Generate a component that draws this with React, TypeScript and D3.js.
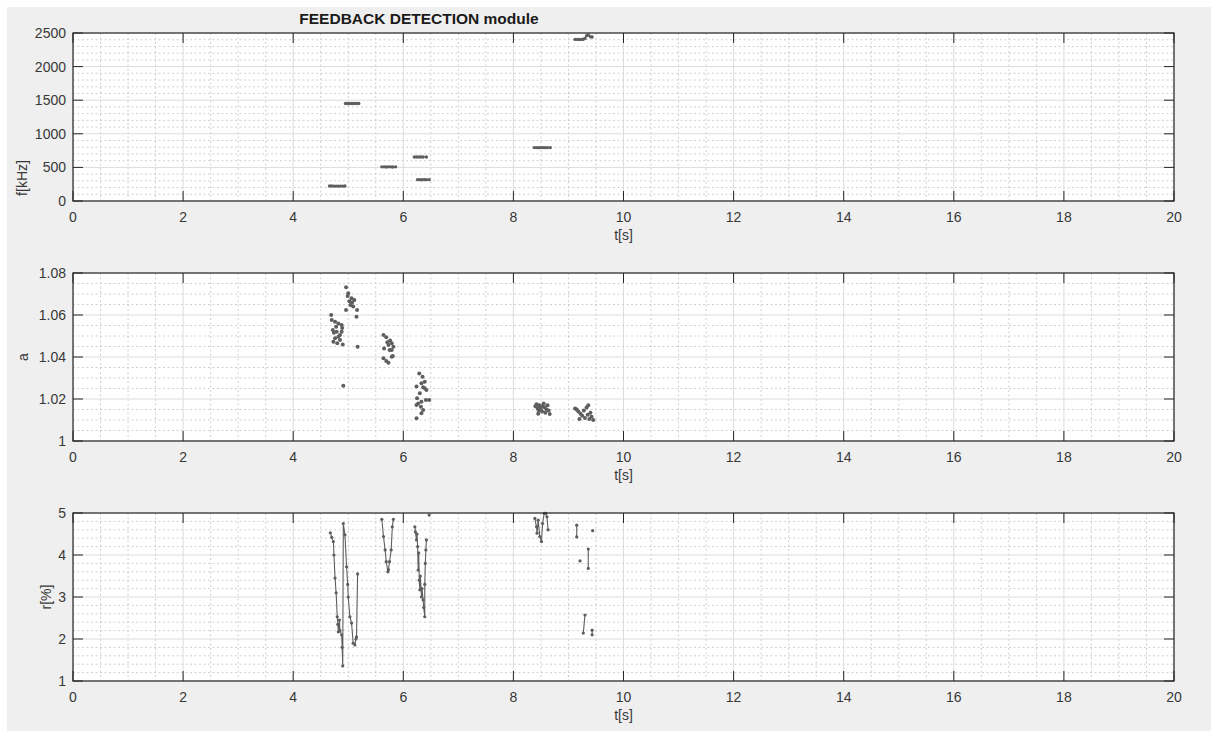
import React from "react";
import * as d3 from "d3";

// ---------- DATA ----------
const xTicks = [0, 2, 4, 6, 8, 10, 12, 14, 16, 18, 20];
const fTicks = [0, 500, 1000, 1500, 2000, 2500];
const aTicks = [1, 1.02, 1.04, 1.06, 1.08];
const rTicks = [1, 2, 3, 4, 5];

// f[kHz] : [t, f]  (null = break)
const freqData: ([number, number] | null)[] = [
  [4.66, 224], [4.70, 223], [4.74, 222], [4.78, 222], [4.82, 221], [4.86, 222], [4.90, 222], [4.94, 223], null,
  [4.95, 1452], [4.99, 1452], [5.03, 1451], [5.07, 1452], [5.11, 1452], [5.15, 1451], [5.19, 1452], null,
  [5.61, 508], [5.65, 508], [5.69, 507], [5.73, 508], [5.77, 508], [5.81, 507], [5.86, 508], null,
  [6.20, 655], [6.24, 655], [6.28, 654], [6.32, 655], [6.36, 655], [6.42, 655], null,
  [6.26, 318], [6.30, 318], [6.34, 317], [6.38, 318], [6.42, 318], [6.47, 318], null,
  [8.38, 795], [8.42, 795], [8.46, 794], [8.50, 795], [8.54, 795], [8.58, 794], [8.62, 795], [8.67, 795], null,
  [9.12, 2405], [9.16, 2405], [9.20, 2404], [9.24, 2405], [9.27, 2406], [9.30, 2420], [9.33, 2460], [9.36, 2470], [9.40, 2445], [9.43, 2440],
];

// a : [t, a]
const aData: [number, number][] = [
  [4.69, 1.06], [4.70, 1.0576], [4.76, 1.0568], [4.78, 1.0544], [4.82, 1.056], [4.88, 1.0552],
  [4.72, 1.0529], [4.79, 1.052], [4.85, 1.0505], [4.76, 1.0489], [4.82, 1.0497], [4.73, 1.0473],
  [4.80, 1.0465], [4.90, 1.046], [4.85, 1.0481], [4.88, 1.052], [4.89, 1.0538], [4.74, 1.0515],
  [4.91, 1.0263], [5.17, 1.0449],
  [4.96, 1.0732], [5.00, 1.0703], [5.06, 1.068], [5.11, 1.0671], [5.04, 1.0648], [4.96, 1.0624],
  [5.09, 1.064], [5.16, 1.0624], [5.15, 1.0592], [5.02, 1.0665], [5.07, 1.0660], [4.99, 1.0690],
  [5.64, 1.0505], [5.69, 1.0494], [5.76, 1.0478], [5.79, 1.0465], [5.82, 1.0449], [5.73, 1.0457],
  [5.79, 1.0433], [5.65, 1.0441], [5.75, 1.0433], [5.81, 1.0405], [5.64, 1.0394], [5.69, 1.0381],
  [5.73, 1.0373], [5.79, 1.0401], [5.71, 1.0470],
  [6.29, 1.0322], [6.35, 1.0306], [6.39, 1.0282], [6.33, 1.0275], [6.24, 1.0259], [6.36, 1.0256],
  [6.42, 1.0243], [6.30, 1.0227], [6.25, 1.0203], [6.33, 1.0187], [6.41, 1.0195], [6.47, 1.0195],
  [6.24, 1.0171], [6.32, 1.0163], [6.36, 1.0148], [6.33, 1.0132], [6.24, 1.0108], [6.27, 1.0179],
  [6.39, 1.0251],
  [8.40, 1.0165], [8.42, 1.0175], [8.44, 1.0155], [8.46, 1.0145], [8.47, 1.017], [8.49, 1.016],
  [8.50, 1.015], [8.52, 1.014], [8.53, 1.0165], [8.55, 1.0178], [8.57, 1.016], [8.58, 1.0135],
  [8.60, 1.015], [8.62, 1.017], [8.45, 1.013], [8.64, 1.0145], [8.66, 1.0128],
  [9.12, 1.0155], [9.15, 1.015], [9.18, 1.014], [9.22, 1.013], [9.25, 1.012], [9.28, 1.0145],
  [9.30, 1.011], [9.33, 1.016], [9.35, 1.0125], [9.38, 1.0105], [9.40, 1.0135], [9.42, 1.0115],
  [9.45, 1.010], [9.20, 1.0105], [9.36, 1.017],
];

// r[%] : [t, r]  (null = break)
const rData: ([number, number] | null)[] = [
  [4.674, 4.53], [4.70, 4.42], [4.73, 4.32], [4.74, 4.0], [4.76, 3.45], [4.78, 3.1], [4.80, 2.53],
  [4.81, 2.35], [4.82, 2.17], [4.84, 2.45], [4.85, 2.2], [4.88, 2.1], [4.89, 1.8], [4.90, 1.36],
  [4.91, 4.75], [4.94, 4.48], [4.97, 3.72], [4.99, 3.3], [5.00, 3.0], [5.03, 2.53], [5.06, 2.38],
  [5.09, 1.9], [5.12, 1.86], [5.14, 2.0], [5.15, 2.05], [5.17, 3.55], null,
  [5.61, 4.85], [5.64, 4.44], [5.67, 4.12], [5.69, 3.84], [5.72, 3.6], [5.73, 3.65], [5.75, 3.84],
  [5.78, 4.12], [5.80, 4.67], [5.82, 4.85], null,
  [6.21, 4.67], [6.22, 4.55], [6.24, 4.36], [6.25, 4.5], [6.26, 4.2], [6.27, 3.64], [6.28, 4.05],
  [6.29, 3.4], [6.30, 3.17], [6.31, 3.5], [6.33, 3.0], [6.34, 3.2], [6.36, 2.93], [6.37, 2.75],
  [6.39, 2.53], [6.39, 3.3], [6.40, 3.8], [6.41, 4.12], [6.42, 4.36], null,
  [6.47, 4.95], null,
  [8.39, 4.87], [8.42, 4.67], [8.43, 4.52], [8.45, 4.83], [8.48, 4.44], [8.51, 4.32], [8.53, 4.75],
  [8.56, 4.99], [8.59, 4.99], [8.61, 4.91], [8.63, 4.6], null,
  [9.15, 4.71], [9.15, 4.43], null,
  [9.44, 4.58], null,
  [9.21, 3.86], null,
  [9.36, 4.14], [9.36, 3.68], null,
  [9.30, 2.57], [9.27, 2.14], null,
  [9.43, 2.21], [9.43, 2.1],
];

// ---------- LAYOUT ----------
const W = 1211;
const H = 731;
const LEFT = 73;
const RIGHT = 1174;
const PH = 168;
const FONT = "'Liberation Sans', Arial, Helvetica, sans-serif";
const MARK = "#5e5e5e";
const TXT = "#383838";
const FS = 14;

type Panel = {
  top: number;
  domain: [number, number];
  ticks: number[];
  minorStep: number;
  fmt: (v: number) => string;
  ylabel: string;
  ylabelX: number;
  ylabelY?: number;
  kind: "line" | "scatter";
  data: ([number, number] | null)[];
  markR: number;
};

const panels: Panel[] = [
  { top: 33, domain: [0, 2500], ticks: fTicks, minorStep: 100, fmt: (v) => String(v), ylabel: "f[kHz]", ylabelX: 22, ylabelY: 178, kind: "line", data: freqData, markR: 1.7 },
  { top: 273, domain: [1, 1.08], ticks: aTicks, minorStep: 0.005, fmt: (v) => (v === 1 ? "1" : v.toFixed(2)), ylabel: "a", ylabelX: 23, kind: "scatter", data: aData, markR: 2 },
  { top: 513, domain: [1, 5], ticks: rTicks, minorStep: 0.2, fmt: (v) => String(v), ylabel: "r[%]", ylabelX: 46, kind: "line", data: rData, markR: 1.6 },
];

const x = d3.scaleLinear().domain([0, 20]).range([LEFT, RIGHT]);
const xMinor = d3.range(0, 20.0001, 0.5).filter((v) => Math.abs(v / 2 - Math.round(v / 2)) > 1e-6);

function PanelView({ p }: { p: Panel }) {
  const y = d3.scaleLinear().domain(p.domain).range([p.top + PH, p.top]);
  const n = Math.round((p.domain[1] - p.domain[0]) / p.minorStep);
  const yMinor = d3
    .range(0, n + 1)
    .map((i) => p.domain[0] + i * p.minorStep)
    .filter((v) => !p.ticks.some((t) => Math.abs(t - v) < p.minorStep / 10));
  const bottom = p.top + PH;
  const line = d3
    .line<[number, number] | null>()
    .defined((d) => d !== null)
    .x((d) => x((d as [number, number])[0]))
    .y((d) => y((d as [number, number])[1]));
  const pts = p.data.filter((d) => d !== null) as [number, number][];
  const TL = 10;
  return (
    <g>
      <rect x={LEFT} y={p.top} width={RIGHT - LEFT} height={PH} fill="#ffffff" />
      {/* minor grid */}
      {xMinor.map((v) => (
        <line key={"xm" + v} x1={x(v)} x2={x(v)} y1={p.top} y2={bottom} stroke="#c4c4c4" strokeWidth={0.8} strokeDasharray="2,2.5" />
      ))}
      {yMinor.map((v, i) => (
        <line key={"ym" + i} x1={LEFT} x2={RIGHT} y1={y(v)} y2={y(v)} stroke="#c4c4c4" strokeWidth={0.8} strokeDasharray="2,2.5" />
      ))}
      {/* major grid */}
      {xTicks.map((v) => (
        <line key={"xg" + v} x1={x(v)} x2={x(v)} y1={p.top} y2={bottom} stroke="#dcdcdc" strokeWidth={1} />
      ))}
      {p.ticks.map((v) => (
        <line key={"yg" + v} x1={LEFT} x2={RIGHT} y1={y(v)} y2={y(v)} stroke="#dcdcdc" strokeWidth={1} />
      ))}
      {/* data */}
      {p.kind === "line" && (
        <path d={line(p.data) || ""} fill="none" stroke={MARK} strokeWidth={1.1} />
      )}
      {pts.map((d, i) => (
        <circle key={"pt" + i} cx={x(d[0])} cy={y(d[1])} r={p.markR} fill={MARK} />
      ))}
      {/* ticks */}
      {xTicks.map((v) => (
        <g key={"xt" + v}>
          <line x1={x(v)} x2={x(v)} y1={bottom} y2={bottom - TL} stroke="#262626" strokeWidth={1} />
          <line x1={x(v)} x2={x(v)} y1={p.top} y2={p.top + TL} stroke="#262626" strokeWidth={1} />
          <text x={x(v)} y={bottom + 21} textAnchor="middle" fontFamily={FONT} fontSize={FS} fill={TXT}>
            {v}
          </text>
        </g>
      ))}
      {p.ticks.map((v) => (
        <g key={"yt" + v}>
          <line x1={LEFT} x2={LEFT + TL} y1={y(v)} y2={y(v)} stroke="#262626" strokeWidth={1} />
          <line x1={RIGHT} x2={RIGHT - TL} y1={y(v)} y2={y(v)} stroke="#262626" strokeWidth={1} />
          <text x={LEFT - 7} y={y(v) + 5} textAnchor="end" fontFamily={FONT} fontSize={FS} fill={TXT}>
            {p.fmt(v)}
          </text>
        </g>
      ))}
      <rect x={LEFT} y={p.top} width={RIGHT - LEFT} height={PH} fill="none" stroke="#262626" strokeWidth={1.2} />
      {/* labels */}
      <text x={(LEFT + RIGHT) / 2} y={bottom + 39} textAnchor="middle" fontFamily={FONT} fontSize={FS} fill={TXT}>
        t[s]
      </text>
      <text
        transform={`translate(${p.ylabelX},${p.ylabelY ?? p.top + PH / 2}) rotate(-90)`}
        textAnchor="middle"
        dominantBaseline="central"
        fontFamily={FONT}
        fontSize={FS}
        fill={TXT}
      >
        {p.ylabel}
      </text>
    </g>
  );
}

export default function App() {
  return (
    <svg width={W} height={H} style={{ position: "absolute", left: 0, top: 0, display: "block" }}>
      <rect x={0} y={0} width={W} height={H} fill="#ffffff" />
      <rect x={7} y={7} width={W - 7} height={H - 7} fill="#efefef" />
      {panels.map((p, i) => (
        <PanelView key={i} p={p} />
      ))}
      <text x={419} y={24} textAnchor="middle" fontFamily={FONT} fontSize={15.5} fontWeight="bold" fill="#1a1a1a">
        FEEDBACK DETECTION module
      </text>
    </svg>
  );
}
